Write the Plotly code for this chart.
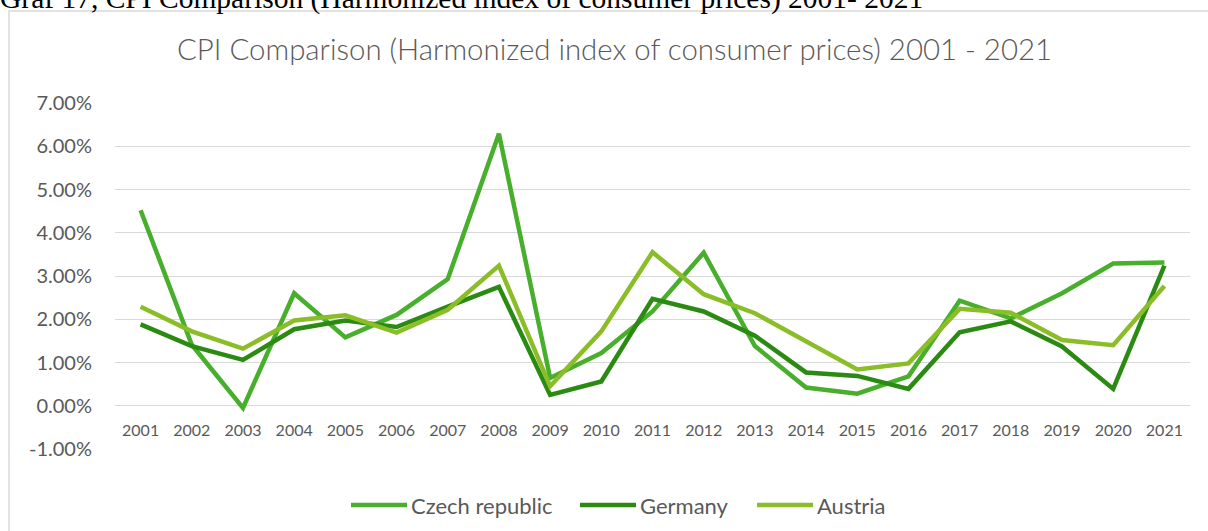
import plotly.graph_objects as go

years = [str(y) for y in range(2001, 2022)]
czech = [4.52, 1.41, -0.05, 2.60, 1.58, 2.10, 2.93, 6.29, 0.64, 1.22, 2.18,
         3.54, 1.38, 0.42, 0.28, 0.68, 2.43, 2.02, 2.60, 3.29, 3.31]
germany = [1.88, 1.38, 1.06, 1.77, 1.97, 1.82, 2.29, 2.75, 0.25, 0.56, 2.47,
           2.18, 1.62, 0.77, 0.69, 0.39, 1.70, 1.95, 1.37, 0.39, 3.24]
austria = [2.29, 1.72, 1.32, 1.97, 2.09, 1.69, 2.22, 3.24, 0.45, 1.72, 3.55,
           2.58, 2.14, 1.48, 0.84, 0.98, 2.24, 2.15, 1.52, 1.40, 2.77]
series_names = ["Czech republic", "Germany", "Austria"]
series_colors = ["#47AF2C", "#2B8A12", "#8ABD27"]
y_ticks = [-1, 0, 1, 2, 3, 4, 5, 6, 7]
y_ticktext = ["-1.00%", "0.00%", "1.00%", "2.00%", "3.00%", "4.00%", "5.00%", "6.00%", "7.00%"]
chart_title = "CPI Comparison (Harmonized index of consumer prices) 2001 - 2021"
doc_caption = "Graf 17, CPI Comparison (Harmonized index of consumer prices) 2001- 2021"

W, H = 1208, 531
ML, MR, MT, MB = 115, 18, 103, 82
plot_w = W - ML - MR
plot_h = H - MT - MB
ymin, ymax = y_ticks[0], y_ticks[-1]

def px_x(p):
    return (p - ML) / plot_w

def px_y(p):
    return (H - MB - p) / plot_h

font_main = "Lato, 'Open Sans', sans-serif"
gray = "#595959"

fig = go.Figure()
for name, vals, col in zip(series_names, [czech, germany, austria], series_colors):
    fig.add_trace(go.Scatter(x=years, y=vals, mode="lines", name=name,
                             line=dict(color=col, width=4.5), showlegend=False))

fig.update_layout(
    width=W, height=H,
    margin=dict(l=ML, r=MR, t=MT, b=MB, autoexpand=False),
    paper_bgcolor="white", plot_bgcolor="white",
    font=dict(family=font_main, color=gray),
    showlegend=False,
    xaxis=dict(type="category", range=[-0.5, len(years) - 0.5], showgrid=False, showline=False,
               zeroline=False, anchor="free", position=(0 - ymin) / (ymax - ymin),
               ticks="outside", ticklen=10, tickcolor="rgba(0,0,0,0)", automargin=False,
               tickfont=dict(size=16, color=gray)),
    yaxis=dict(range=[ymin, ymax], tickvals=y_ticks, ticktext=y_ticktext, showgrid=True,
               gridcolor="#D9D9D9", gridwidth=1.3, zeroline=False, showline=False,
               ticks="outside", ticklen=18, tickcolor="rgba(0,0,0,0)", automargin=False,
               tickfont=dict(size=20, color=gray)),
)

# chart frame (extends past the visible image on right/bottom)
fig.add_shape(type="rect", xref="paper", yref="paper",
              x0=px_x(9), x1=px_x(W + 30), y0=px_y(H + 30), y1=px_y(11),
              line=dict(color="#D9D9D9", width=1.5), fillcolor="rgba(0,0,0,0)", layer="below")

# chart title
fig.add_annotation(text=chart_title, xref="paper", yref="paper", x=px_x(614), xanchor="center",
                   y=px_y(48), yanchor="middle", showarrow=False,
                   font=dict(family=font_main, size=29.4, color=gray, weight=300))

# document caption cut off at the top
fig.add_annotation(text=doc_caption, xref="paper", yref="paper", x=px_x(-2), xanchor="left",
                   y=px_y(17), yanchor="bottom", showarrow=False,
                   font=dict(family="'Liberation Serif', 'Times New Roman', serif", size=29.5, color="black"))

# legend (line swatch + label), laid out like the reference
legend_x = [351, 580, 757]
legend_y = 505
swatch_len = 56
for name, col, lx in zip(series_names, series_colors, legend_x):
    fig.add_shape(type="line", xref="paper", yref="paper",
                  x0=px_x(lx), x1=px_x(lx + swatch_len), y0=px_y(legend_y), y1=px_y(legend_y),
                  line=dict(color=col, width=4.5))
    fig.add_annotation(text=name, xref="paper", yref="paper", x=px_x(lx + swatch_len + 2),
                       xanchor="left", y=px_y(legend_y), yanchor="middle", showarrow=False,
                       font=dict(family=font_main, size=22, color=gray))

fig.write_html("out.html", config={"displayModeBar": False},
               post_script="document.body.style.margin='0';")
